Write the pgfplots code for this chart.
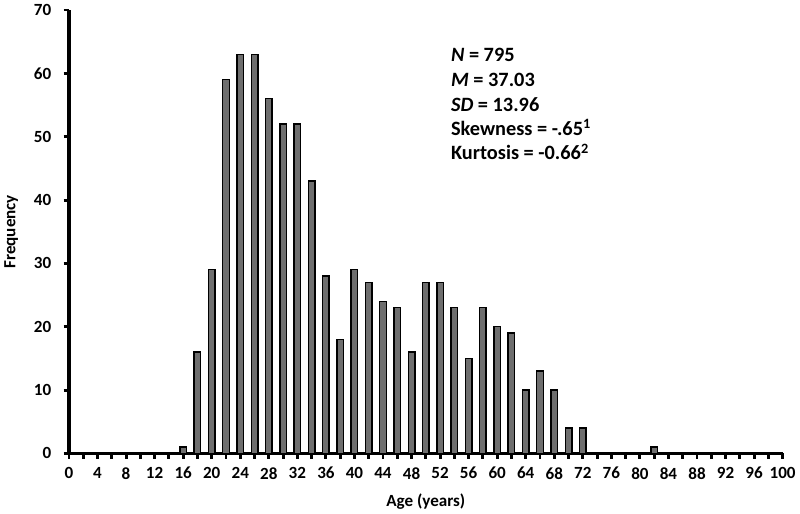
\documentclass[border=0pt]{standalone}
\usepackage{fontspec}
\setmainfont{Carlito}
\usepackage{pgfplots}
\pgfplotsset{compat=1.18}

\begin{document}
\begin{tikzpicture}
\begin{axis}[
  scale only axis,
  width=544pt,
  height=338pt,
  xmin=0, xmax=100,
  ymin=0, ymax=70,
  axis x line=bottom,
  axis y line=left,
  axis line style={-, line width=2.5pt},
  xtick={0,4,...,100},
  minor xtick={2,6,...,98},
  ytick={0,10,...,70},
  tick align=outside,
  major tick length=4pt,
  minor tick length=4pt,
  every tick/.style={black, line width=2.2pt},
  minor tick style={black, line width=2.2pt},
  tick label style={font=\fontsize{13}{15}\selectfont\bfseries},
  xticklabel style={yshift=-3pt},
  yticklabel style={xshift=-6pt},
  /pgf/number format/assume math mode=true,
  xlabel={Age (years)},
  ylabel={Frequency},
  label style={font=\fontsize{13}{15}\selectfont\bfseries},
  xlabel style={at={(rel axis cs:0.5,0)}, anchor=center, yshift=-36.5pt},
  ylabel style={at={(rel axis cs:0,0.5)}, anchor=center, yshift=44pt},
  clip=false,
]
\addplot[ybar, bar width=5pt, fill=black!57, draw=black, line width=1.1pt]
  coordinates {
  (16,1) (18,16) (20,29) (22,59) (24,63) (26,63) (28,56) (30,52) (32,52)
  (34,43) (36,28) (38,18) (40,29) (42,27) (44,24) (46,23) (48,16) (50,27)
  (52,27) (54,23) (56,15) (58,23) (60,20) (62,19) (64,10) (66,13) (68,10)
  (70,4) (72,4) (82,1)
  };
\begin{scope}[every node/.style={anchor=base west, inner sep=0pt, font=\fontsize{15.5}{18}\selectfont\bfseries}]
\node at (rel axis cs:0.535,0.884) {\textit{N} = 795};
\node at (rel axis cs:0.535,0.828) {\textit{M} = 37.03};
\node at (rel axis cs:0.535,0.772) {\textit{SD} = 13.96};
\node at (rel axis cs:0.535,0.718) {Skewness = -.65\textsuperscript{1}};
\node at (rel axis cs:0.535,0.662) {Kurtosis = -0.66\textsuperscript{2}};
\end{scope}
\end{axis}
\end{tikzpicture}
\end{document}
